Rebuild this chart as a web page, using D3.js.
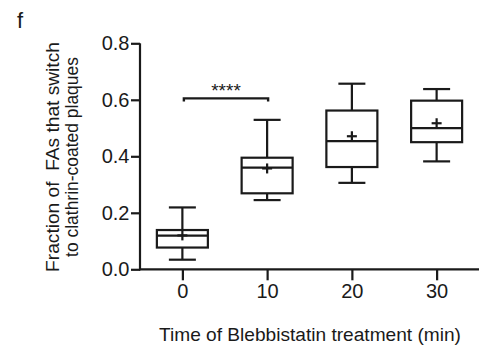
<!DOCTYPE html>
<html>
<head>
<meta charset="utf-8">
<script src="https://cdn.jsdelivr.net/npm/d3@7"></script>
<style>
  html, body { margin: 0; padding: 0; background: #fff; }
  svg { display: block; font-family: "Liberation Sans", Arial, sans-serif; }
</style>
</head>
<body>
<svg id="chart" width="487" height="349"></svg>
<script>
// Blebbistatin treatment time points (min)
const categories = [0, 10, 20, 30];
// Box-and-whisker summaries per time point
const whiskerLow  = [0.034, 0.245, 0.306, 0.382];
const q1          = [0.077, 0.269, 0.362, 0.450];
const medians     = [0.119, 0.360, 0.454, 0.500];
const q3          = [0.139, 0.395, 0.562, 0.597];
const whiskerHigh = [0.219, 0.529, 0.657, 0.638];
const means       = [0.120, 0.357, 0.471, 0.517];
const yTicks = [0.0, 0.2, 0.4, 0.6, 0.8];
// Significance comparison: 0 min vs 10 min
const sigPair = [0, 10];
const sigLevel = 0.605;
const sigLabel = "****";

const svg = d3.select("#chart");
const ink = "#1a1a1a";
const font = "Liberation Sans, Arial, sans-serif";

const x = d3.scalePoint().domain(categories).range([140, 479]).padding(0.5);
const y = d3.scaleLinear().domain([0, 0.8]).range([269.3, 43.3]);

const boxW = 51, capW = 27, plus = 5, sw = 2.2;

// Axes
const yAxis = svg.append("g")
  .attr("transform", "translate(140,0)")
  .call(d3.axisLeft(y).tickValues(yTicks).tickFormat(d3.format(".1f")).tickSizeOuter(0).tickSize(9).tickPadding(1.5));
const xAxis = svg.append("g")
  .attr("transform", `translate(0,${y(0)})`)
  .call(d3.axisBottom(x).tickSizeOuter(0).tickSize(11).tickPadding(4));

[yAxis, xAxis].forEach(g => {
  g.attr("font-size", 20).attr("font-family", font);
  g.select(".domain").attr("stroke", ink).attr("stroke-width", sw);
  g.selectAll(".tick line").attr("stroke", ink).attr("stroke-width", sw);
  g.selectAll(".tick text").attr("fill", ink);
});
// x axis line spans the full plot width
xAxis.select(".domain").attr("d", `M139,0H479`);
yAxis.select(".domain").attr("d", `M0,${y(0) + 1}V${y(0.8)}`);

// Boxes
const data = categories.map((c, i) => ({
  c, lo: whiskerLow[i], q1: q1[i], med: medians[i], q3: q3[i], hi: whiskerHigh[i], mean: means[i]
}));

const g = svg.append("g").attr("stroke", ink).attr("stroke-width", sw).attr("fill", "none");
data.forEach(d => {
  const cx = x(d.c);
  // whiskers
  g.append("line").attr("x1", cx).attr("x2", cx).attr("y1", y(d.q3)).attr("y2", y(d.hi));
  g.append("line").attr("x1", cx).attr("x2", cx).attr("y1", y(d.q1)).attr("y2", y(d.lo));
  g.append("line").attr("x1", cx - capW / 2).attr("x2", cx + capW / 2).attr("y1", y(d.hi)).attr("y2", y(d.hi));
  g.append("line").attr("x1", cx - capW / 2).attr("x2", cx + capW / 2).attr("y1", y(d.lo)).attr("y2", y(d.lo));
  // box
  g.append("rect").attr("x", cx - boxW / 2).attr("width", boxW)
    .attr("y", y(d.q3)).attr("height", y(d.q1) - y(d.q3)).attr("fill", "#fff");
  // median
  g.append("line").attr("x1", cx - boxW / 2).attr("x2", cx + boxW / 2).attr("y1", y(d.med)).attr("y2", y(d.med));
  // mean marker
  g.append("line").attr("x1", cx - plus).attr("x2", cx + plus).attr("y1", y(d.mean)).attr("y2", y(d.mean));
  g.append("line").attr("x1", cx).attr("x2", cx).attr("y1", y(d.mean) - plus).attr("y2", y(d.mean) + plus);
});

// Significance bracket
const sx1 = x(sigPair[0]) + 1.5, sx2 = x(sigPair[1]) + 1;
svg.append("path")
  .attr("d", `M${sx1},${y(sigLevel) + 3}V${y(sigLevel)}H${sx2}V${y(sigLevel) + 3}`)
  .attr("stroke", ink).attr("stroke-width", 2.4).attr("fill", "none");
svg.append("text")
  .attr("x", (sx1 + sx2) / 2).attr("y", y(sigLevel) - 1)
  .attr("text-anchor", "middle").attr("font-size", 19).attr("fill", ink)
  .text(sigLabel);

// Shrinks/grows a text's font so its run fills the given width
function fitWidth(sel, width) {
  const n = sel.node();
  const fs = parseFloat(sel.attr("font-size"));
  const w = n.getComputedTextLength();
  if (w > 0) sel.attr("font-size", fs * width / w);
}

// Axis titles
const xt = svg.append("text")
  .attr("x", 310).attr("y", 340.5)
  .attr("text-anchor", "middle").attr("font-size", 19.5).attr("fill", ink)
  .text("Time of Blebbistatin treatment (min)");
fitWidth(xt, 302);

const yt = svg.append("g").attr("transform", "translate(0,157) rotate(-90)");
const yl1 = yt.append("text").attr("x", 0).attr("y", 59)
  .attr("text-anchor", "middle").attr("font-size", 19).attr("fill", ink)
  .style("white-space", "pre")
  .text("Fraction of  FAs that switch");
fitWidth(yl1, 230);
const yl2 = yt.append("text").attr("x", 0).attr("y", 78)
  .attr("text-anchor", "middle").attr("font-size", 19).attr("fill", ink)
  .text("to clathrin-coated plaques");
fitWidth(yl2, 200);

// Panel letter
svg.append("text").attr("x", 17).attr("y", 28).attr("font-size", 22).attr("fill", ink).text("f");
</script>
</body>
</html>
